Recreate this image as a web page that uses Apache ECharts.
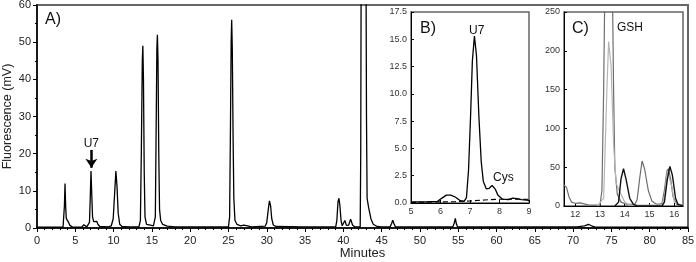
<!DOCTYPE html>
<html>
<head>
<meta charset="utf-8">
<script src="https://cdn.jsdelivr.net/npm/echarts@6/dist/echarts.min.js"></script>
<style>html,body{margin:0;padding:0;background:#fff}#c{width:696px;height:262px}</style>
</head>
<body>
<div id="c"></div>
<script>
// ---- Data (time in minutes, fluorescence in mV) ----
const traceA = [
  [0,0.2],[3.4,0.2],[3.5,0.5],[3.58,6],[3.66,12],[3.74,6],[3.82,2.6],[3.95,2.5],[4.1,1.6],[4.3,0.7],[4.6,0.3],
  [5.5,0.2],[5.9,0.3],[6.1,0.9],[6.3,0.8],[6.5,0.3],[6.75,0.3],[6.85,1.5],[6.95,8],[7.05,15.3],[7.15,9],[7.25,3],
  [7.4,1.7],[7.6,1.5],[7.8,1.8],[7.95,1],[8.2,0.4],[9.3,0.3],[9.7,0.6],[9.95,2.5],[10.1,8],[10.3,15.3],[10.45,11],
  [10.6,4],[10.8,1],[11.1,0.4],[12,0.3],[13.3,0.3],[13.5,2],[13.62,20],[13.75,45],[13.82,49],[13.9,40],[14.0,15],
  [14.1,3],[14.3,1],[14.8,0.8],[15.2,0.6],[15.45,3],[15.55,25],[15.65,48],[15.72,52],[15.8,45],[15.9,20],[16.0,5],
  [16.15,2],[16.4,1],[17,0.5],[18,0.3],[22.0,0.3],[22.2,0.6],[22.4,0.3],[25.0,0.3],[25.15,3],[25.25,25],[25.35,50],
  [25.42,56],[25.5,48],[25.6,25],[25.7,8],[25.85,2],[26.1,1],[26.6,0.6],[27,0.8],[27.5,0.6],[28,0.3],[29.8,0.5],
  [30.0,1.5],[30.2,5],[30.35,7.3],[30.5,6],[30.65,2.5],[30.85,0.8],[31.2,0.4],[34.7,0.3],[34.9,0.6],[35.1,0.3],
  [39.0,0.3],[39.15,2],[39.3,7],[39.42,8],[39.55,6],[39.7,2],[39.85,0.6],[40.0,0.8],[40.2,2],[40.4,0.7],[40.7,0.8],
  [40.95,2.4],[41.2,0.8],[41.5,0.3],[42.2,0.3],[42.27,20],[42.33,75],[42.6,90],[42.95,75],[43.02,30],[43.1,8],
  [43.3,5.5],[43.45,5],[43.6,2.5],[43.9,1],[44.4,0.4],[45,0.3],[46.1,0.3],[46.3,1.2],[46.45,2.1],[46.6,1.2],
  [46.8,0.3],[54.3,0.3],[54.5,1.5],[54.62,2.6],[54.75,1.2],[54.9,0.3],[56.6,0.3],[56.75,0.7],[56.9,0.3],
  [70.5,0.3],[71.5,0.6],[72,1],[72.4,0.6],[73,0.2],[85,0.2]
];
const traceBSolid = [
  [5,0.1],[5.5,0.1],[5.9,0.15],[6.05,0.45],[6.2,0.72],[6.35,0.72],[6.5,0.55],[6.65,0.25],[6.8,0.15],[6.88,0.5],
  [6.95,3],[7.02,8],[7.08,13],[7.15,15.3],[7.22,13.5],[7.3,8],[7.38,3.8],[7.45,2],[7.55,1.3],[7.65,1.35],[7.75,1.6],
  [7.85,1.3],[7.95,0.7],[8.1,0.35],[8.3,0.3],[8.45,0.45],[8.6,0.4],[8.75,0.3],[9,0.25]
];
const traceBDashed = [
  [5,0.05],[6,0.1],[6.5,0.12],[7,0.18],[7.5,0.28],[8,0.35],[9,0.35]
];
const traceCDark = [
  [11.55,27],[11.65,24],[11.75,12],[11.85,5],[12.0,3.5],[12.2,4],[12.4,2.5],[12.6,1],[13.0,1],[13.08,20],[13.15,150],
  [13.2,290],[13.5,290],[13.55,150],[13.6,50],[13.7,15],[13.85,5],[14.1,2],[14.4,2],[14.5,8],[14.6,35],[14.7,58],
  [14.8,48],[14.95,20],[15.1,6],[15.3,2],[15.5,3],[15.6,20],[15.7,45],[15.76,48],[15.85,35],[15.95,12],[16.1,2],[16.35,1]
];
const traceCLight = [
  [12.9,0],[13.15,10],[13.28,150],[13.35,212],[13.45,180],[13.55,80],[13.65,30],[13.75,22],[13.85,15],[14.0,5],
  [14.2,1],[15.5,1],[15.62,15],[15.72,45],[15.8,46],[15.9,25],[16.0,5],[16.35,0]
];
const traceCBlack = [
  [13.6,0],[13.75,5],[13.85,35],[13.95,48],[14.05,35],[14.2,10],[14.35,2],[14.5,0],[15.5,0],[15.6,5],[15.72,35],
  [15.82,51],[15.92,40],[16.05,10],[16.15,2],[16.35,0]
];
const insetCTicks = [12,13,14,15,16];
const u7Arrow = {time: 7.1, top: 21, tip: 16.2};

const FONT = 'Liberation Sans, Arial, sans-serif';
const chart = echarts.init(document.getElementById('c'), null, {renderer: 'canvas'});

function lineSeries(data, xi, color, width, type, extra) {
  return Object.assign({
    type: 'line', data: data, xAxisIndex: xi, yAxisIndex: xi, showSymbol: false, symbol: 'none',
    lineStyle: {color: color, width: width, type: type || 'solid'}, clip: true, silent: true
  }, extra || {});
}

chart.setOption({
  animation: false,
  backgroundColor: '#fff',
  textStyle: {fontFamily: FONT},
  grid: [
    {left: 37, right: 8, top: 5, bottom: 34, show: true, borderColor: '#666', borderWidth: 2, backgroundColor: '#fff', containLabel: false, outerBoundsMode: 'none'},
    {left: 411, right: 167, top: 12, bottom: 59, show: true, borderColor: '#666', borderWidth: 1.5, backgroundColor: '#fff', containLabel: false, outerBoundsMode: 'none'},
    {left: 564, right: 13, top: 12, bottom: 56, show: true, borderColor: '#666', borderWidth: 1.5, backgroundColor: '#fff', containLabel: false, outerBoundsMode: 'none'}
  ],
  xAxis: [
    {gridIndex: 0, type: 'value', min: 0, max: 85, interval: 5,
     name: 'Minutes', nameLocation: 'middle', nameGap: 19, nameMoveOverlap: false,
     nameTextStyle: {fontSize: 13, color: '#222', fontFamily: FONT},
     axisLine: {lineStyle: {color: '#000', width: 1.5}},
     axisTick: {show: true, length: 4, lineStyle: {color: '#000'}},
     minorTick: {show: true, splitNumber: 5, length: 2, lineStyle: {color: '#000'}},
     axisLabel: {fontSize: 11, color: '#222', margin: 7, fontFamily: FONT},
     splitLine: {show: false}},
    {gridIndex: 1, type: 'value', min: 5, max: 9, interval: 1,
     axisLine: {lineStyle: {color: '#000', width: 1}},
     axisTick: {show: true, inside: true, length: 3, lineStyle: {color: '#000'}},
     axisLabel: {fontSize: 9, color: '#333', margin: 4, fontFamily: FONT},
     splitLine: {show: false}},
    {gridIndex: 2, type: 'value', min: 11.55, max: 16.35,
     axisLine: {lineStyle: {color: '#000', width: 1}},
     axisTick: {show: true, inside: true, length: 3, customValues: insetCTicks, lineStyle: {color: '#000'}},
     axisLabel: {fontSize: 9, color: '#333', margin: 4, customValues: insetCTicks, fontFamily: FONT},
     splitLine: {show: false}}
  ],
  yAxis: [
    {gridIndex: 0, type: 'value', min: 0, max: 60, interval: 10,
     name: 'Fluorescence (mV)', nameLocation: 'middle', nameGap: 23, nameMoveOverlap: false,
     nameTextStyle: {fontSize: 12.5, color: '#222', fontFamily: FONT},
     axisLine: {show: true, lineStyle: {color: '#000', width: 1.5}},
     axisTick: {show: true, length: 4, lineStyle: {color: '#000'}},
     minorTick: {show: true, splitNumber: 2, length: 2, lineStyle: {color: '#000'}},
     axisLabel: {fontSize: 11, color: '#222', margin: 6, fontFamily: FONT},
     splitLine: {show: false}},
    {gridIndex: 1, type: 'value', min: 0, max: 17.5, interval: 2.5,
     axisLine: {show: true, lineStyle: {color: '#000', width: 1}},
     axisTick: {show: true, inside: true, length: 3, lineStyle: {color: '#000'}},
     axisLabel: {fontSize: 9, color: '#333', margin: 4, fontFamily: FONT,
                 formatter: v => v.toFixed(1)},
     splitLine: {show: false}},
    {gridIndex: 2, type: 'value', min: 0, max: 250, interval: 50,
     axisLine: {show: true, lineStyle: {color: '#000', width: 1}},
     axisTick: {show: true, inside: true, length: 3, lineStyle: {color: '#000'}},
     axisLabel: {fontSize: 9, color: '#333', margin: 4, fontFamily: FONT},
     splitLine: {show: false}}
  ],
  series: [
    lineSeries(traceA, 0, '#000', 1.3, 'solid', {
      markLine: {
        silent: true, symbol: ['none', 'arrow'], symbolSize: [9, 9],
        lineStyle: {color: '#000', width: 2.5, type: 'solid'},
        label: {show: true, position: 'start', formatter: 'U7', fontSize: 12, color: '#111', distance: 0, fontFamily: FONT},
        data: [[{coord: [u7Arrow.time, u7Arrow.top]}, {coord: [u7Arrow.time, u7Arrow.tip]}]]
      }
    }),
    lineSeries(traceBDashed, 1, '#000', 1.1, [5, 3]),
    lineSeries(traceBSolid, 1, '#000', 1.3),
    lineSeries(traceCDark, 2, '#6e6e6e', 1.2),
    lineSeries(traceCLight, 2, '#b4b4b4', 1.2),
    lineSeries(traceCBlack, 2, '#111', 1.4)
  ],
  graphic: [
    {type: 'text', left: 45, top: 12, style: {text: 'A)', fontSize: 16, fill: '#111', fontFamily: FONT}},
    {type: 'text', left: 420, top: 21, style: {text: 'B)', fontSize: 16, fill: '#111', fontFamily: FONT}},
    {type: 'text', left: 469, top: 25, style: {text: 'U7', fontSize: 12, fill: '#111', fontFamily: FONT}},
    {type: 'text', left: 493, top: 172, style: {text: 'Cys', fontSize: 12, fill: '#111', fontFamily: FONT}},
    {type: 'text', left: 572, top: 21, style: {text: 'C)', fontSize: 16, fill: '#111', fontFamily: FONT}},
    {type: 'text', left: 617, top: 22, style: {text: 'GSH', fontSize: 12, fill: '#111', fontFamily: FONT}}
  ]
});
</script>
</body>
</html>
